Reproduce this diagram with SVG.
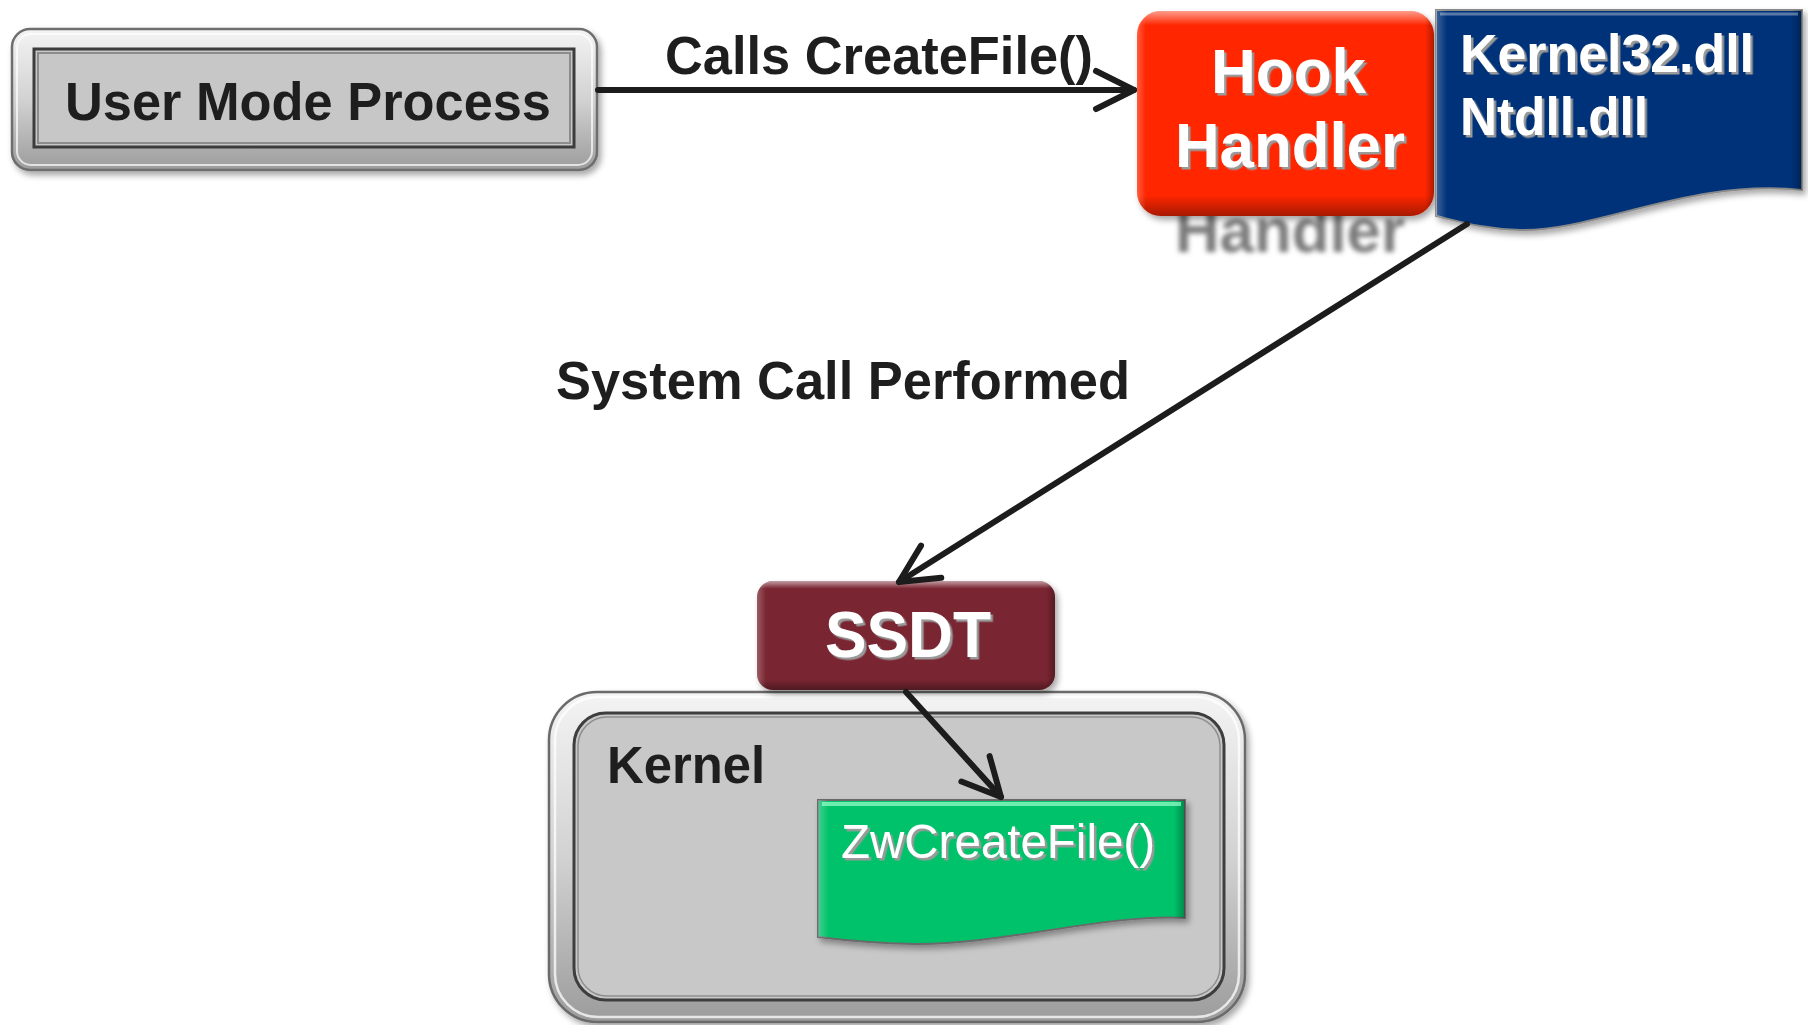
<svg xmlns="http://www.w3.org/2000/svg" width="1808" height="1025" viewBox="0 0 1808 1025">
  <style>
    .lbl { font-family: "Liberation Sans", Arial, sans-serif; font-weight: bold; fill: #1e1e1e; }
    .wht { font-family: "Liberation Sans", Arial, sans-serif; font-weight: bold; fill: #ffffff; }
    .reg { font-family: "Liberation Sans", Arial, sans-serif; font-weight: normal; fill: #ffffff; }
    .wire { fill: none; stroke: #1c1c1c; stroke-width: 6; stroke-linecap: round; }
  </style>
  <defs>
    <linearGradient id="metal" x1="0" y1="0" x2="0" y2="1">
      <stop offset="0" stop-color="#f4f4f4"/>
      <stop offset="0.5" stop-color="#d2d2d2"/>
      <stop offset="1" stop-color="#9c9c9c"/>
    </linearGradient>
    <linearGradient id="bevelV" x1="0" y1="0" x2="0" y2="1">
      <stop offset="0" stop-color="#ffffff" stop-opacity="0.55"/>
      <stop offset="0.07" stop-color="#ffffff" stop-opacity="0"/>
      <stop offset="0.9" stop-color="#000000" stop-opacity="0"/>
      <stop offset="1" stop-color="#000000" stop-opacity="0.35"/>
    </linearGradient>
    <linearGradient id="bevelH" x1="0" y1="0" x2="1" y2="0">
      <stop offset="0" stop-color="#ffffff" stop-opacity="0.25"/>
      <stop offset="0.03" stop-color="#ffffff" stop-opacity="0"/>
      <stop offset="0.97" stop-color="#000000" stop-opacity="0"/>
      <stop offset="1" stop-color="#000000" stop-opacity="0.3"/>
    </linearGradient>
    <filter id="shadow" x="-10%" y="-10%" width="120%" height="130%">
      <feDropShadow dx="3" dy="4" stdDeviation="3" flood-color="#000" flood-opacity="0.35"/>
    </filter>
    <filter id="txtShadow" x="-5%" y="-10%" width="110%" height="130%">
      <feDropShadow dx="2.5" dy="2.5" stdDeviation="0.3" flood-color="#9a9a9a" flood-opacity="1"/>
    </filter>
    <filter id="blur" x="-10%" y="-30%" width="120%" height="160%">
      <feGaussianBlur stdDeviation="2.5"/>
    </filter>
    <marker id="chev" markerUnits="userSpaceOnUse" viewBox="-46 -26 52 52" markerWidth="52" markerHeight="52" refX="0" refY="0" orient="auto" overflow="visible">
      <path d="M-38,-19 L0,0 L-38,19" fill="none" stroke="#1c1c1c" stroke-width="6" stroke-linecap="round" stroke-linejoin="round"/>
    </marker>
  </defs>

  <rect width="1808" height="1025" fill="#ffffff"/>

  <!-- User mode process -->
  <g id="user-mode-process">
    <rect x="12" y="29" width="585" height="141" rx="18" fill="url(#metal)" stroke="#6e6e6e" stroke-width="2.5" filter="url(#shadow)"/>
    <rect x="17" y="34" width="575" height="131" rx="14" fill="none" stroke="#ffffff" stroke-opacity="0.7" stroke-width="2"/>
    <rect x="34" y="49" width="540" height="98" fill="#c6c7c6" stroke="#3c3c3c" stroke-width="3"/>
    <rect x="38" y="53" width="532" height="90" fill="none" stroke="#8c8c8c" stroke-width="2"/>
    <text class="lbl" x="65" y="120" font-size="54" textLength="486" lengthAdjust="spacingAndGlyphs">User Mode Process</text>
  </g>

  <!-- Hook handler (reflection first, box drawn over it) -->
  <g id="hook-handler">
    <text x="1175" y="252" font-size="63" font-family="Liberation Sans, Arial, sans-serif" font-weight="bold" fill="#7c7c7c" textLength="230" lengthAdjust="spacingAndGlyphs" filter="url(#blur)">Handler</text>
    <rect x="1137" y="11" width="297" height="205" rx="24" fill="#ff2600" filter="url(#shadow)"/>
    <rect x="1137" y="11" width="297" height="205" rx="24" fill="url(#bevelV)"/>
    <rect x="1137" y="11" width="297" height="205" rx="24" fill="url(#bevelH)"/>
    <g filter="url(#txtShadow)">
      <text class="wht" x="1211" y="93" font-size="63" textLength="155" lengthAdjust="spacingAndGlyphs">Hook</text>
      <text class="wht" x="1175" y="167" font-size="63" textLength="230" lengthAdjust="spacingAndGlyphs">Handler</text>
    </g>
  </g>

  <!-- Kernel32.dll / Ntdll.dll document -->
  <g id="user-dlls">
    <path d="M1436,10 H1802 V190 C1690,178 1595,232 1520,230 C1482,229 1458,221 1436,216 Z" fill="#00337a" stroke="#8a8a8a" stroke-width="2" filter="url(#shadow)"/>
    <path d="M1436,10 H1802 V190 C1690,178 1595,232 1520,230 C1482,229 1458,221 1436,216 Z" fill="url(#bevelH)"/>
    <path d="M1440,14 H1798" stroke="#ffffff" stroke-opacity="0.35" stroke-width="3"/>
    <g filter="url(#txtShadow)">
      <text class="wht" x="1460" y="72" font-size="54" textLength="294" lengthAdjust="spacingAndGlyphs">Kernel32.dll</text>
      <text class="wht" x="1460" y="135" font-size="54" textLength="188" lengthAdjust="spacingAndGlyphs">Ntdll.dll</text>
    </g>
  </g>

  <!-- Kernel -->
  <g id="kernel">
    <rect x="549" y="692" width="696" height="330" rx="48" fill="url(#metal)" stroke="#6a6a6a" stroke-width="2.5" filter="url(#shadow)"/>
    <rect x="555" y="697" width="684" height="320" rx="43" fill="none" stroke="#ffffff" stroke-opacity="0.75" stroke-width="2.5"/>
    <rect x="574" y="713" width="650" height="287" rx="32" fill="#c8c8c8" stroke="#3e3e3e" stroke-width="3"/>
    <rect x="578" y="717" width="642" height="279" rx="29" fill="none" stroke="#8e8e8e" stroke-width="1.5"/>
    <text class="lbl" x="607" y="783" font-size="51" textLength="158" lengthAdjust="spacingAndGlyphs">Kernel</text>
  </g>

  <!-- SSDT -->
  <g id="ssdt">
    <rect x="757" y="581" width="298" height="109" rx="16" fill="#7a2832" filter="url(#shadow)"/>
    <rect x="757" y="581" width="298" height="109" rx="16" fill="url(#bevelV)"/>
    <rect x="757" y="581" width="298" height="109" rx="16" fill="url(#bevelH)"/>
    <text class="wht" x="825" y="657" font-size="64" textLength="166" lengthAdjust="spacingAndGlyphs" filter="url(#txtShadow)">SSDT</text>
  </g>

  <!-- ZwCreateFile() document -->
  <g id="zwcreatefile">
    <path d="M818,800 H1185 V918 C1110,913 1000,945 915,944 C870,943 842,940 818,937 Z" fill="#00c26a" stroke="#6a6a6a" stroke-width="2" filter="url(#shadow)"/>
    <path d="M818,800 H1185 V918 C1110,913 1000,945 915,944 C870,943 842,940 818,937 Z" fill="url(#bevelH)"/>
    <path d="M822,804 H1181" stroke="#9cffd0" stroke-opacity="0.7" stroke-width="4"/>
    <text class="reg" x="841" y="858" font-size="48" textLength="314" lengthAdjust="spacingAndGlyphs" filter="url(#txtShadow)">ZwCreateFile()</text>
  </g>

  <!-- Connectors -->
  <g id="connectors">
    <line class="wire" x1="598" y1="90" x2="1134" y2="90" marker-end="url(#chev)"/>
    <text class="lbl" x="665" y="74" font-size="54" textLength="428" lengthAdjust="spacingAndGlyphs">Calls CreateFile()</text>
    <line class="wire" x1="1467" y1="224" x2="899" y2="582" marker-end="url(#chev)"/>
    <text class="lbl" x="556" y="399" font-size="53" textLength="574" lengthAdjust="spacingAndGlyphs">System Call Performed</text>
    <line class="wire" x1="906" y1="692" x2="1001" y2="797" marker-end="url(#chev)"/>
  </g>
</svg>
